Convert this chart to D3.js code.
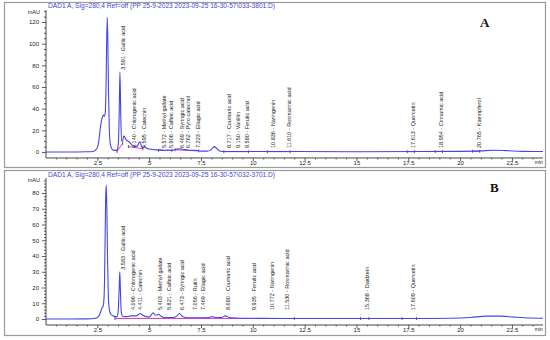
<!DOCTYPE html>
<html><head><meta charset="utf-8">
<script src="https://cdn.jsdelivr.net/npm/d3@7"></script>
<style>body{margin:0;background:#fff}svg{display:block}</style></head>
<body><svg id="c" width="550" height="340"></svg>
<script>
// ---------- DATA ----------
const timeTicks = [2.5, 5, 7.5, 10, 12.5, 15, 17.5, 20, 22.5];
const timeTickLabels = ["2.5", "5", "7.5", "10", "12.5", "15", "17.5", "20", "22.5"];

const titleA = "DAD1 A, Sig=280,4 Ref=off (PP 25-9-2023 2023-09-25 16-30-57\\033-3801.D)";
const titleB = "DAD1 A, Sig=280,4 Ref=off (PP 25-9-2023 2023-09-25 16-30-57\\032-3701.D)";

const yTicksA = [0, 20, 40, 60, 80, 100, 120];
const yTicksB = [0, 10, 20, 30, 40, 50, 60, 70, 80];

// chromatogram A: [time (min), absorbance (mAU)]
const traceA = [
  [0,0],[1,0],[2,0.2],[2.3,0.5],[2.4,1.5],[2.5,4],[2.57,10],[2.63,20],[2.7,29],[2.76,33],[2.8,34],
  [2.84,33],[2.88,36],[2.92,60],[2.95,100],[2.98,124],[3.01,100],[3.04,55],[3.08,20],[3.13,7],
  [3.2,3],[3.3,1.5],[3.42,1.5],[3.5,5],[3.55,30],[3.59,74],[3.63,35],[3.67,10],[3.72,10],[3.78,15],
  [3.84,13],[3.9,11],[3.98,10],[4.05,9],[4.15,7],[4.25,5.5],[4.35,5],[4.45,6],[4.52,9],[4.57,9.5],
  [4.63,5],[4.7,4],[4.78,5],[4.85,4],[4.95,3],[5.1,2.5],[5.3,2],[5.55,2],[5.7,1.5],[5.9,1.8],
  [6.1,1.5],[6.3,2.5],[6.45,3],[6.6,2.5],[6.8,2],[7.0,1.5],[7.25,1.5],[7.5,0.8],[7.8,0.8],
  [7.95,1.5],[8.05,3.5],[8.15,5],[8.25,3.5],[8.4,1],[8.6,0.5],[9,0.5],[10,0.4],[12,0.4],
  [15,0.3],[18,0.4],[20,0.6],[21,1],[21.6,1.6],[22.2,1.3],[23,0.6],[24,0.5]
];
// chromatogram B
const traceB = [
  [0,0],[1,0],[2,0.1],[2.4,0.5],[2.55,1.5],[2.65,4],[2.72,7],[2.78,8],[2.83,15],[2.87,45],
  [2.9,75],[2.93,85],[2.96,70],[2.99,40],[3.03,15],[3.08,6],[3.15,3],[3.25,2],[3.35,1.5],
  [3.45,1.5],[3.5,4],[3.55,18],[3.583,30],[3.61,20],[3.65,5],[3.7,2],[3.8,1.5],[3.95,1.5],
  [4.1,2],[4.25,2],[4.4,2],[4.5,3],[4.58,3.5],[4.68,2.5],[4.85,1.5],[5.0,1.2],[5.1,2.5],
  [5.2,4],[5.28,2.5],[5.38,2.5],[5.45,3],[5.55,2],[5.7,1],[5.9,1],[6.2,1],[6.35,2],[6.47,3.5],
  [6.58,2],[6.75,1],[7.0,0.8],[7.5,0.8],[7.9,1],[8.05,1.5],[8.2,1],[8.5,1],[8.68,2],[8.85,1],
  [9.5,0.5],[10.5,0.4],[12,0.3],[15,0.3],[18,0.3],[19.5,0.5],[20.5,1],[21.3,1.8],[22,1.8],
  [22.6,1.2],[23.4,0.6],[24,0.5]
];

// identified peaks: retention time, compound, apex height (mAU)
const peakTimesA = [3.591, 4.140, 4.595, 5.572, 5.906, 6.469, 6.762, 7.223, 8.717, 9.150, 9.580, 10.836, 11.610, 17.613, 18.954, 20.765];
const peakNamesA = ["Gallic acid", "Chlorogenic acid", "Catechin", "Methyl gallate", "Caffeic acid", "Syringic acid", "Pyro catechol", "Ellagic acid", "Coumaric acid", "Vanillin", "Ferulic acid", "Naringenin", "Rosmarinic acid", "Quercetin", "Cinnamic acid", "Kaempferol"];
const peakHeightsA = [74, 7, 9.5, 2, 1.8, 3, 2, 1.5, 0.5, 0.5, 0.5, 0.4, 0.4, 0.4, 0.5, 0.8];

const peakTimesB = [3.583, 4.096, 4.411, 5.403, 5.821, 6.473, 7.056, 7.469, 8.680, 9.935, 10.772, 11.530, 15.368, 17.609];
const peakNamesB = ["Gallic acid", "Chlorogenic acid", "Catechin", "Methyl gallate", "Caffeic acid", "Syringic acid", "Rutin", "Ellagic acid", "Coumaric acid", "Ferulic acid", "Naringenin", "Rosmarinic acid", "Daidzein", "Quercetin"];
const peakHeightsB = [30, 2, 2, 2.5, 1, 3.5, 0.8, 0.8, 2, 0.5, 0.4, 0.3, 0.3, 0.3];

// integration baselines: [tStart, vStart, tEnd, vEnd]
const baselinesA = [[3.45,0.5,3.72,8],[4.0,5,4.7,3],[5.45,1.5,6.1,1.5],[6.25,2,7.4,1],[8.6,0.3,9.8,0.3],[10.7,0.3,11.8,0.3],[17.45,0.3,17.8,0.3],[18.8,0.4,19.15,0.4],[20.6,0.7,20.95,0.7]];
const baselinesB = [[3.35,0.3,12.0,0.3],[15.2,0.3,15.6,0.3],[17.2,0.3,17.9,0.3]];

// ---------- DRAW ----------
const svg = d3.select("#c");
const x = d3.scaleLinear().domain([0, 24]).range([45.5, 543]);
const blue = "#4646e6", pink = "#e040c0", axisCol = "#333", textCol = "#222";

const panels = [
  {title: titleA, letter: "A", trace: traceA, ticks: yTicksA, minor: 5,
   times: peakTimesA, names: peakNamesA, heights: peakHeightsA, bases: baselinesA,
   yDom: [0, 120], yRange: [152, 22], axTop: 131, axBot: -5.5, box: [4, 2, 545, 167],
   titleY: 8, letterX: 480, letterY: 27, smallGap: 4},
  {title: titleB, letter: "B", trace: traceB, ticks: yTicksB, minor: 2,
   times: peakTimesB, names: peakNamesB, heights: peakHeightsB, bases: baselinesB,
   yDom: [0, 80], yRange: [319, 193], axTop: 89.5, axBot: -3.8, box: [4, 170, 545, 335],
   titleY: 177, letterX: 490, letterY: 192, smallGap: 9}
];

panels.forEach(p => {
  const g = svg.append("g");
  const y = d3.scaleLinear().domain(p.yDom).range(p.yRange);
  const [bx0, by0, bx1, by1] = p.box;
  g.append("rect").attr("x", bx0 + 0.5).attr("y", by0 + 0.5).attr("width", bx1 - bx0).attr("height", by1 - by0)
    .attr("fill", "#fff").attr("stroke", "#9a9a9a").attr("stroke-width", 1.2);

  g.append("text").attr("x", 48).attr("y", p.titleY).text(p.title)
    .attr("font-family", "Liberation Sans, Arial, sans-serif").attr("font-size", 6.6).attr("fill", "#4444d8");

  const xAxisY = y(p.axBot);
  // y axis
  const yMinor = d3.range(p.yDom[0], p.axTop, p.minor).filter(v => !p.ticks.includes(v));
  const yMaj = g.append("g").attr("transform", "translate(46,0)")
    .call(d3.axisLeft(y).tickValues(p.ticks).tickSize(4).tickPadding(3).tickFormat(d3.format("d")));
  const yMin = g.append("g").attr("transform", "translate(46,0)")
    .call(d3.axisLeft(y).tickValues(yMinor).tickSize(2).tickFormat(""));
  [yMaj, yMin].forEach(a => { a.select(".domain").remove(); a.selectAll("line").attr("stroke", axisCol).attr("stroke-width", 0.8); });
  yMaj.selectAll("text").attr("font-family", "Liberation Sans, Arial, sans-serif").attr("font-size", 6).attr("fill", textCol);
  g.append("line").attr("x1", 46).attr("x2", 46).attr("y1", y(p.axTop)).attr("y2", xAxisY).attr("stroke", axisCol).attr("stroke-width", 0.9);
  g.append("text").attr("x", 40).attr("y", y(p.axTop) + 4).attr("text-anchor", "end").text("mAU")
    .attr("font-family", "Liberation Sans, Arial, sans-serif").attr("font-size", 5.5).attr("fill", textCol);

  // x axis
  const xMinor = d3.range(0.5, 24, 0.5).filter(v => !timeTicks.includes(v));
  const xMaj = g.append("g").attr("transform", `translate(0,${xAxisY})`)
    .call(d3.axisBottom(x).tickValues(timeTicks).tickSize(3).tickPadding(0).tickFormat((d, i) => timeTickLabels[i]));
  const xMin = g.append("g").attr("transform", `translate(0,${xAxisY})`)
    .call(d3.axisBottom(x).tickValues(xMinor).tickSize(1.5).tickFormat(""));
  [xMaj, xMin].forEach(a => { a.select(".domain").remove(); a.selectAll("line").attr("stroke", axisCol).attr("stroke-width", 0.8); });
  xMaj.selectAll("text").attr("font-family", "Liberation Sans, Arial, sans-serif").attr("font-size", 6).attr("fill", textCol);
  g.append("line").attr("x1", 46).attr("x2", x(24)).attr("y1", xAxisY).attr("y2", xAxisY).attr("stroke", axisCol).attr("stroke-width", 0.9);
  g.append("text").attr("x", x(23.8)).attr("y", xAxisY + 6.5).attr("text-anchor", "middle").text("min")
    .attr("font-family", "Liberation Sans, Arial, sans-serif").attr("font-size", 5).attr("fill", textCol);

  // integration baselines + boundary ticks
  g.selectAll(".bl").data(p.bases).join("line")
    .attr("x1", d => x(d[0])).attr("y1", d => y(d[1])).attr("x2", d => x(d[2])).attr("y2", d => y(d[3]))
    .attr("stroke", pink).attr("stroke-width", 1);
  const ends = p.bases.flatMap(d => [[d[0], d[1]], [d[2], d[3]]]);
  g.selectAll(".bt").data(ends).join("line")
    .attr("x1", d => x(d[0])).attr("x2", d => x(d[0])).attr("y1", d => y(d[1]) - 1.5).attr("y2", d => y(d[1]) + 1.5)
    .attr("stroke", "#222").attr("stroke-width", 0.7);

  // trace
  g.append("path").datum(p.trace)
    .attr("d", d3.line().x(d => x(d[0])).y(d => y(d[1])).curve(d3.curveMonotoneX))
    .attr("fill", "none").attr("stroke", blue).attr("stroke-width", 1.1);

  // peak labels
  const base = y(0);
  p.times.forEach((t, i) => {
    const h = p.heights[i];
    const by = h > 15 ? y(h) - 2 : base - p.smallGap;
    g.append("text")
      .attr("transform", `translate(${x(t) + 4.8},${by}) rotate(-90) scale(0.92,1)`)
      .text(`${t.toFixed(3)} - ${p.names[i]}`)
      .attr("font-family", "Liberation Sans, Arial, sans-serif").attr("font-size", 6).attr("fill", textCol);
  });

  g.append("text").attr("x", p.letterX).attr("y", p.letterY).text(p.letter)
    .attr("font-family", "Liberation Serif, Times New Roman, serif").attr("font-weight", "bold")
    .attr("font-size", 13).attr("fill", "#111");
});
</script></body></html>
